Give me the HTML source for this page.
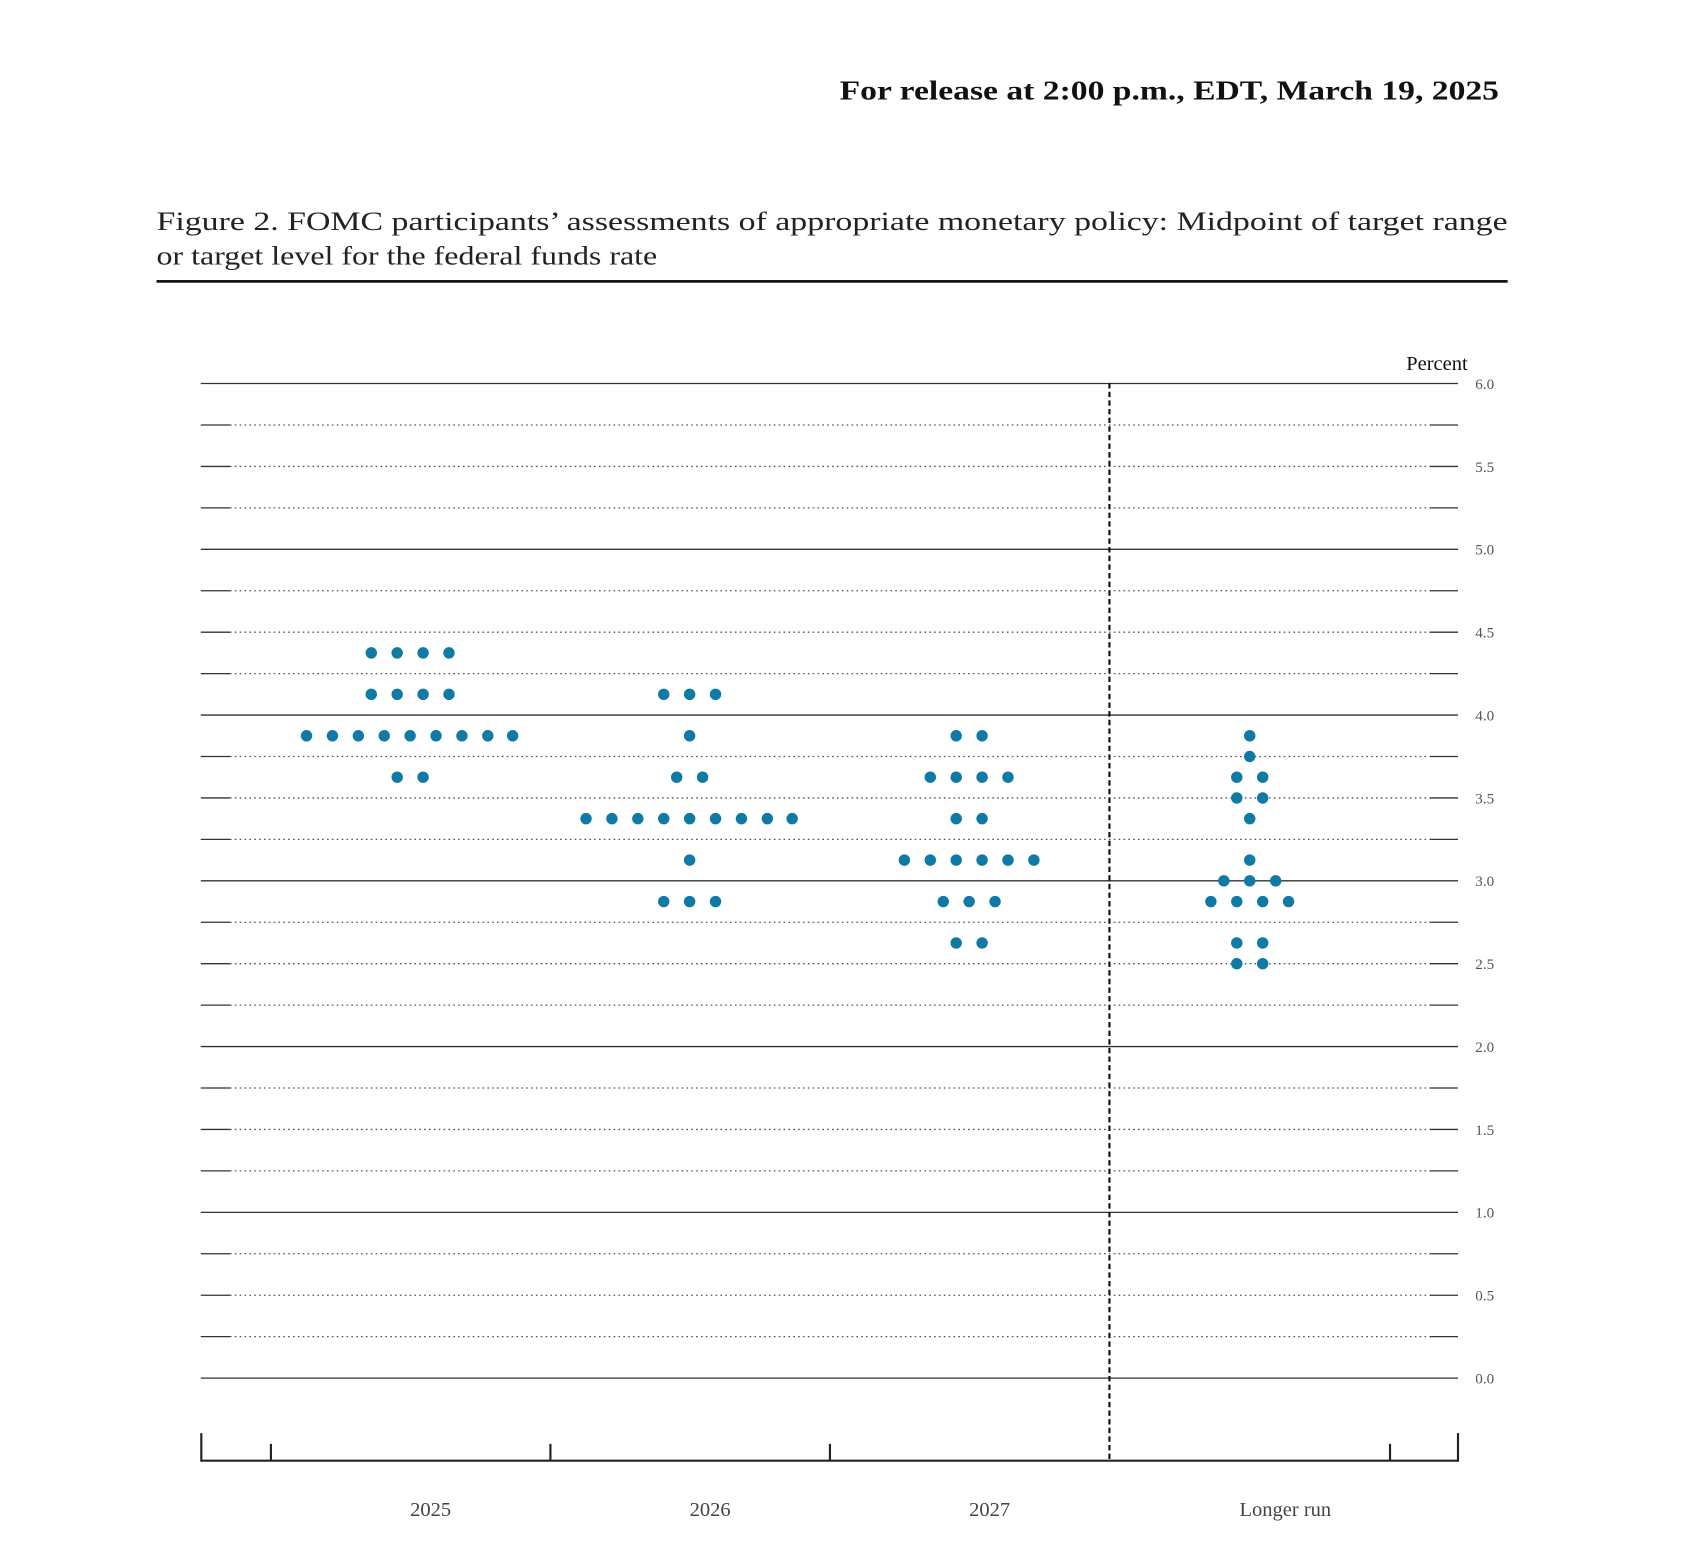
<!DOCTYPE html>
<html><head><meta charset="utf-8"><style>html,body{margin:0;padding:0;background:#fff}svg{display:block}</style></head>
<body>
<svg id="s" width="1689" height="1554" viewBox="0 0 1565 1440" xmlns="http://www.w3.org/2000/svg">
<rect width="1565" height="1440" fill="#fff"/>
<text x="778" y="92" font-family="Liberation Serif, serif" font-weight="bold" font-size="25" fill="#111" textLength="611" lengthAdjust="spacingAndGlyphs">For release at 2:00 p.m., EDT, March 19, 2025</text>
<text x="145" y="213" font-family="Liberation Serif, serif" font-size="24" fill="#222" textLength="1252" lengthAdjust="spacingAndGlyphs">Figure 2.  FOMC participants’ assessments of appropriate monetary policy:  Midpoint of target range</text>
<text x="145" y="245" font-family="Liberation Serif, serif" font-size="24" fill="#222" textLength="464" lengthAdjust="spacingAndGlyphs">or target level for the federal funds rate</text>
<rect x="145" y="259.5" width="1252" height="2.5" fill="#111"/>
<text x="1360" y="343" text-anchor="end" font-family="Liberation Serif, serif" font-size="19" fill="#111">Percent</text>
<g id="g"></g>
<line x1="1028" y1="355" x2="1028" y2="1353" stroke="#111" stroke-width="2" stroke-dasharray="5,3"/>
<path d="M186.5 1328V1353.5H1351V1328M251 1338V1353M510 1338V1353M769 1338V1353M1288 1338V1353" fill="none" stroke="#222" stroke-width="2"/>
<g font-family="Liberation Serif, serif" font-size="19" fill="#444" text-anchor="middle">
<text x="399" y="1405">2025</text><text x="658" y="1405">2026</text><text x="917" y="1405">2027</text><text x="1191" y="1405">Longer run</text>
</g>
</svg>
<script>
var g=document.getElementById('g'),h='';
function Y(v){return 1277-v*153.6;}
for(var i=0;i<=24;i++){var v=i*0.25,y=Y(v).toFixed(1);
 if(i%4==0){h+='<line x1="186" y1="'+y+'" x2="1351" y2="'+y+'" stroke="#333" stroke-width="1.2"/>';}
 else{h+='<line x1="213" y1="'+y+'" x2="1325" y2="'+y+'" stroke="#555" stroke-width="1.2" stroke-dasharray="1.5,3"/>';
  h+='<line x1="186" y1="'+y+'" x2="213" y2="'+y+'" stroke="#333" stroke-width="1.2"/><line x1="1325" y1="'+y+'" x2="1351" y2="'+y+'" stroke="#333" stroke-width="1.2"/>';}
 if(i%2==0)h+='<text x="1367" y="'+(Y(v)+5)+'" font-family="Liberation Serif, serif" font-size="14" fill="#555">'+v.toFixed(1)+'</text>';}
var D=[[4.375,[344,368,392,416]],[4.125,[344,368,392,416]],[3.875,[284,308,332,356,380,404,428,452,475]],[3.625,[368,392]],
[4.125,[615,639,663]],[3.875,[639]],[3.625,[627,651]],[3.375,[543,567,591,615,639,663,687,711,734]],[3.125,[639]],[2.875,[615,639,663]],
[3.875,[886,910]],[3.625,[862,886,910,934]],[3.375,[886,910]],[3.125,[838,862,886,910,934,958]],[2.875,[874,898,922]],[2.625,[886,910]],
[3.875,[1158]],[3.75,[1158]],[3.625,[1146,1170]],[3.5,[1146,1170]],[3.375,[1158]],[3.125,[1158]],[3.0,[1134,1158,1182]],[2.875,[1122,1146,1170,1194]],[2.625,[1146,1170]],[2.5,[1146,1170]]];
D.forEach(function(d){d[1].forEach(function(x){h+='<circle cx="'+x+'" cy="'+Y(d[0]).toFixed(1)+'" r="5.3" fill="#0f7aa6"/>';});});
g.innerHTML=h;
</script>
</body></html>
